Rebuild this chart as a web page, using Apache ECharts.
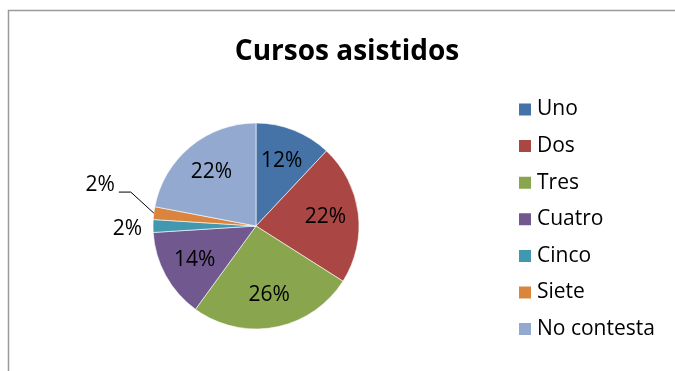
<!DOCTYPE html>
<html>
<head>
<meta charset="utf-8">
<title>Cursos asistidos</title>
<script src="https://cdn.jsdelivr.net/npm/echarts@6/dist/echarts.min.js"></script>
<style>
  html, body { margin: 0; padding: 0; background: #fff; }
  #chart { width: 675px; height: 371px; }
</style>
</head>
<body>
<div id="chart"></div>
<script>
// Number of courses attended (share of respondents, %)
const categories = ['Uno', 'Dos', 'Tres', 'Cuatro', 'Cinco', 'Siete', 'No contesta'];
const percentages = [12, 22, 26, 14, 2, 2, 22];
const sliceColors = ['#4572A7', '#AA4643', '#89A54E', '#71588F', '#4198AF', '#DB843D', '#93A9CF'];

// Small slices get their labels outside the pie
const outsideLabels = ['Cinco', 'Siete'];

const FONT = '"Open Sans", "Liberation Sans", sans-serif';
const CENTER = [256, 226];
const RADIUS = 103;

// Point on the pie rim at the middle of a slice (pie starts at 12 o'clock, clockwise)
function rimPoint(index) {
  const total = percentages.reduce((a, b) => a + b, 0);
  let before = 0;
  for (let i = 0; i < index; i++) before += percentages[i];
  const theta = ((before + percentages[index] / 2) / total) * 2 * Math.PI;
  return [CENTER[0] + RADIUS * Math.sin(theta), CENTER[1] - RADIUS * Math.cos(theta)];
}

const pieData = categories.map((name, i) => ({
  name,
  value: percentages[i],
  itemStyle: { color: sliceColors[i] },
  label: { show: outsideLabels.includes(name) }
}));

// Transparent copy of the pie used only to place the inner labels
const labelData = categories.map((name, i) => ({
  name,
  value: percentages[i],
  label: { show: !outsideLabels.includes(name) }
}));

// Leader line for the "Siete" label: rim -> bend -> short horizontal run
const sieteIdx = categories.indexOf('Siete');
const sieteRim = rimPoint(sieteIdx);
const sieteBend = [sieteRim[0] - 23, sieteRim[1] - 21];
const sieteEnd = [sieteRim[0] - 35, sieteRim[1] - 21];

const chart = echarts.init(document.getElementById('chart'), null, { renderer: 'canvas' });

chart.setOption({
  backgroundColor: '#ffffff',
  animation: false,
  title: {
    text: 'Cursos asistidos',
    left: 347,
    top: 38,
    padding: 0,
    textAlign: 'center',
    textStyle: { fontFamily: FONT, fontSize: 28, fontWeight: 'bold', color: '#000' }
  },
  legend: {
    orient: 'vertical',
    left: 517,
    top: 99,
    padding: 0,
    itemWidth: 14,
    itemHeight: 14,
    itemGap: 15.6,
    icon: 'rect',
    data: categories,
    selectedMode: false,
    textStyle: { fontFamily: FONT, fontSize: 21, color: '#000', lineHeight: 21 }
  },
  graphic: [
    {
      type: 'rect',
      silent: true,
      shape: { x: 8.5, y: 10.5, width: 720, height: 420 },
      style: { fill: 'none', stroke: '#9a9a9a', lineWidth: 1.5 }
    },
    {
      type: 'polyline',
      silent: true,
      z: 10,
      shape: { points: [sieteRim, sieteBend, sieteEnd] },
      style: { fill: 'none', stroke: '#000', lineWidth: 1 }
    }
  ],
  series: [
    {
      type: 'pie',
      center: CENTER,
      radius: RADIUS,
      startAngle: 90,
      clockwise: true,
      avoidLabelOverlap: false,
      itemStyle: { borderColor: '#ffffff', borderWidth: 0.6 },
      label: {
        position: 'outside',
        formatter: '{c}%',
        fontFamily: FONT,
        fontSize: 21,
        color: '#000'
      },
      labelLine: { show: false },
      emphasis: { disabled: true },
      labelLayout: function (params) {
        const name = categories[params.dataIndex];
        if (!outsideLabels.includes(name)) return {};
        if (name === 'Cinco') {
          const p = rimPoint(params.dataIndex);
          return { x: p[0] - 11, y: p[1] + 3, align: 'right', verticalAlign: 'middle' };
        }
        return { x: sieteEnd[0] - 4, y: sieteEnd[1] - 7, align: 'right', verticalAlign: 'middle' };
      },
      data: pieData
    },
    {
      type: 'pie',
      center: CENTER,
      radius: [31, RADIUS],
      startAngle: 90,
      clockwise: true,
      silent: true,
      avoidLabelOverlap: false,
      itemStyle: { color: 'rgba(0,0,0,0)' },
      label: {
        position: 'inside',
        formatter: '{c}%',
        fontFamily: FONT,
        fontSize: 21,
        color: '#000'
      },
      labelLine: { show: false },
      emphasis: { disabled: true },
      data: labelData
    }
  ]
});
</script>
</body>
</html>
